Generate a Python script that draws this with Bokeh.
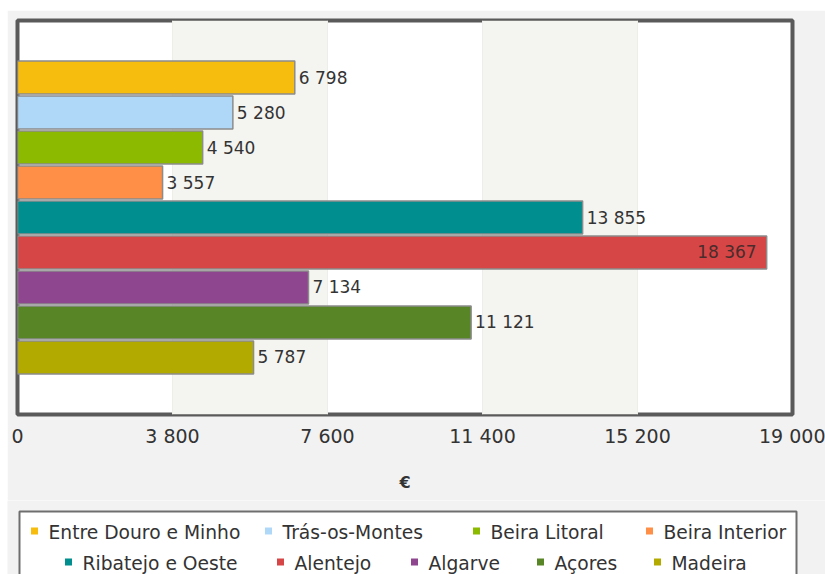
from bokeh.plotting import figure
from bokeh.models import Range1d, FixedTicker, BoxAnnotation, ColumnDataSource
from bokeh.layouts import column
from bokeh.core.properties import value
from bokeh.embed import file_html
from bokeh.resources import INLINE

# ---- data ----
regions = ["Entre Douro e Minho", "Trás-os-Montes", "Beira Litoral", "Beira Interior",
           "Ribatejo e Oeste", "Alentejo", "Algarve", "Açores", "Madeira"]
amounts = [6798, 5280, 4540, 3557, 13855, 18367, 7134, 11121, 5787]
bar_colors = ["#F6BD0F", "#AFD8F8", "#8BBA00", "#FF8E46", "#008E8E",
              "#D64646", "#8E468E", "#588526", "#B3AA00"]
tick_values = [0, 3800, 7600, 11400, 15200, 19000]
tick_labels = ["0", "3 800", "7 600", "11 400", "15 200", "19 000"]
axis_title = "€"

FONT = "DejaVu Sans"
PANEL = "#f2f2f2"
X_MAX = tick_values[-1]
FIG_W = 818

# ---- chart ----
n = len(regions)
pad = 1.63
p = figure(width=FIG_W, height=490, output_backend="svg", toolbar_location=None,
           x_range=Range1d(0, X_MAX), y_range=Range1d(n - 1 + pad, -pad),
           min_border_left=10, min_border_right=33, min_border_top=10, min_border_bottom=86)
p.background_fill_color = "white"
p.border_fill_color = PANEL
p.outline_line_color = "#5a5a5a"
p.outline_line_width = 4

# alternating bands
for i in range(1, len(tick_values) - 1, 2):
    p.add_layout(BoxAnnotation(left=tick_values[i], right=tick_values[i + 1],
                               fill_color="#f4f4f0", fill_alpha=1.0, line_color=None,
                               level="underlay"))

p.yaxis.visible = False
p.ygrid.visible = False
p.xgrid.ticker = FixedTicker(ticks=tick_values)
p.xgrid.grid_line_color = "#e8e8e3"
p.xgrid.grid_line_width = 1

ax = p.xaxis[0]
ax.ticker = FixedTicker(ticks=tick_values)
ax.major_label_overrides = {v: l for v, l in zip(tick_values, tick_labels)}
ax.axis_line_color = None
ax.major_tick_line_color = None
ax.minor_tick_line_color = None
ax.major_tick_out = 0
ax.major_tick_in = 0
ax.major_label_standoff = 10
ax.major_label_text_font = FONT
ax.major_label_text_font_size = "19px"
ax.major_label_text_color = "#333333"
ax.axis_label = axis_title
ax.axis_label_text_font = FONT
ax.axis_label_text_font_size = "16px"
ax.axis_label_text_font_style = "bold"
ax.axis_label_text_color = "#333333"
ax.axis_label_standoff = 23

ys = list(range(n))
labels = [f"{v:,}".replace(",", " ") for v in amounts]
src = ColumnDataSource(dict(y=ys, v=amounts, c=bar_colors, label=labels))
p.hbar(y="y", left=0, right="v", height=0.94, fill_color="c", line_color="#8c8c8c",
       line_width=1.5, source=src)

inside = [v > 0.9 * X_MAX for v in amounts]
out_src = ColumnDataSource(dict(
    x=[v for v, f in zip(amounts, inside) if not f],
    y=[y for y, f in zip(ys, inside) if not f],
    t=[l for l, f in zip(labels, inside) if not f]))
in_src = ColumnDataSource(dict(
    x=[v for v, f in zip(amounts, inside) if f],
    y=[y for y, f in zip(ys, inside) if f],
    t=[l for l, f in zip(labels, inside) if f]))
p.text(x="x", y="y", text="t", source=out_src, x_offset=4, text_align="left",
       text_baseline="middle", text_font=value(FONT), text_font_size="17px",
       text_color="#333333")
p.text(x="x", y="y", text="t", source=in_src, x_offset=-10, text_align="right",
       text_baseline="middle", text_font=value(FONT), text_font_size="17px",
       text_color="#4a2c2c")

# ---- legend (second figure, drawn in pixel coordinates) ----
LH = 74
lg = figure(width=FIG_W, height=LH, output_backend="svg", toolbar_location=None,
            x_range=Range1d(0, FIG_W), y_range=Range1d(LH, 0),
            x_axis_type=None, y_axis_type=None,
            min_border=0, min_border_left=0, min_border_right=0,
            min_border_top=0, min_border_bottom=0)
lg.background_fill_color = PANEL
lg.border_fill_color = PANEL
lg.outline_line_color = None
lg.grid.visible = False
for fig in (p, lg):
    if "frame_align" in fig.properties():
        fig.frame_align = False

lg.quad(left=12, right=789, top=11, bottom=LH + 60, fill_color="white",
        line_color="#6e6e6e", line_width=2)

# layout of legend entries (text start x, row y) in pixels
legend_text_x = [41, 275, 483, 656, 75, 287, 421, 547, 664]
legend_row_y = [32, 32, 32, 32, 63, 63, 63, 63, 63]
lsrc = ColumnDataSource(dict(
    tx=legend_text_x, mx=[x - 14 for x in legend_text_x],
    ty=legend_row_y, my=[y - 1.5 for y in legend_row_y],
    c=bar_colors, t=regions))
lg.rect(x="mx", y="my", width=7, height=7, fill_color="c", line_color=None, source=lsrc)
lg.text(x="tx", y="ty", text="t", source=lsrc, text_align="left", text_baseline="middle",
        text_font=value(FONT), text_font_size="18.7px", text_color="#333333")

layout = column(p, lg, spacing=0, margin=(10, 0, 0, 7))
open("out.html", "w").write(file_html(layout, INLINE))
